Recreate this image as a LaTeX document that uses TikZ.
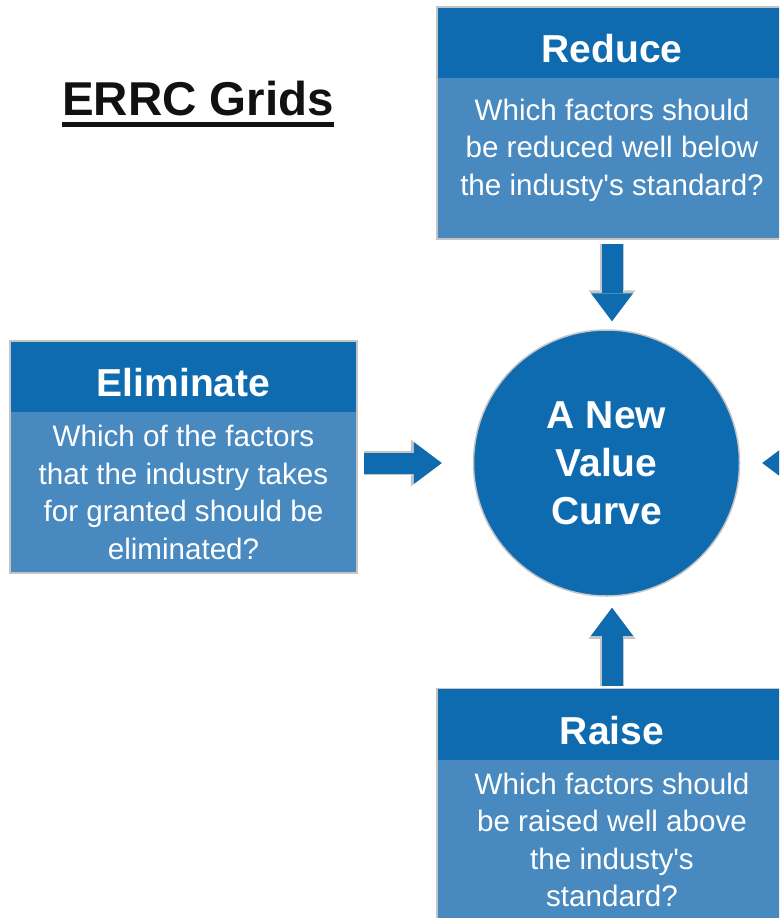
\documentclass[tikz,border=0pt]{standalone}
\usepackage{fontspec}
\setmainfont{Liberation Sans}
\usetikzlibrary{arrows.meta,positioning}
\definecolor{cHead}{HTML}{0E6BB0}
\definecolor{cBody}{HTML}{4889BF}
\definecolor{cEdge}{HTML}{C4C4C4}
\definecolor{cInk}{HTML}{111111}
\newsavebox{\ttlbox}
\newcommand{\ttlline}[1]{\sbox{\ttlbox}{#1}\rlap{\rule[-12pt]{\wd\ttlbox}{5pt}}\usebox{\ttlbox}}
\tikzset{
  hdr/.style={fill=cHead, text=white, font=\fontsize{39}{44}\selectfont\bfseries, minimum width=#1, minimum height=71, text height=40pt, text depth=0pt, inner sep=0pt, outer sep=0pt},
  card/.style={fill=cBody, text=white, font=\fontsize{29.6}{37.5}\selectfont, align=center, minimum width=#1, minimum height=161, inner sep=0pt, outer sep=0pt},
  hub/.style={circle, fill=cHead, draw=cEdge, line width=1.5pt, text=white, font=\fontsize{39}{48}\selectfont\bfseries, align=center, minimum size=266, inner sep=0pt},
  rim/.style={draw=cEdge, line width=1.2pt},
  flow/.style={draw=cHead, line width=21pt, -{Triangle[length=28pt, width=42pt, line width=0pt]},
    preaction={draw=cEdge, line width=24pt, -{Triangle[length=31pt, width=47pt, line width=0pt]}}},
}
\begin{document}
\begin{tikzpicture}[x=1pt, y=-1pt]
\useasboundingbox (0,0) rectangle (779,918);
\clip (0,0) rectangle (779,918);
\node[font=\fontsize{47.5}{50}\selectfont\bfseries, text=cInk, anchor=base] (ttl) at (198,115) {\ttlline{ERRC Grids}};
% reduce
\node[hdr=350] (redH) at (612,42.5) {Reduce};
\node[card=350, below=0pt of redH] (redB) {Which factors should\\be reduced well below\\the industy\textquotesingle s standard?\\[-15pt]\mbox{}};
\draw[rim] (redH.north west) rectangle (redB.south east);
% eliminate
\node[hdr=347] (elimH) at (183.5,376.5) {Eliminate};
\node[card=347, below=0pt of elimH] (elimB) {Which of the factors\\that the industry takes\\for granted should be\\eliminated?};
\draw[rim] (elimH.north west) rectangle (elimB.south east);
% raise
\node[hdr=350] (raiseH) at (612,724) {Raise};
\node[card=350, below=0pt of raiseH] (raiseB) {Which factors should\\be raised well above\\the industy\textquotesingle s\\standard?};
\draw[rim] (raiseH.north west) rectangle (raiseB.south east);
% centre
\node[hub] (nv) at (606.5,463) {A New\\Value\\Curve};
\coordinate (crt) at ([xshift=60pt]nv.east);
\draw[flow, shorten <=5pt, shorten >=8pt] (redB) -- (redB |- nv.north);
\draw[flow, shorten <=3pt, shorten >=11pt] (raiseH) -- (raiseH |- nv.south);
\draw[flow, shorten <=7pt, shorten >=31pt] (nv.west -| elimB.east) -- (nv.west);
\draw[flow, shorten >=22pt] (crt) -- (nv.east);
\end{tikzpicture}
\end{document}
